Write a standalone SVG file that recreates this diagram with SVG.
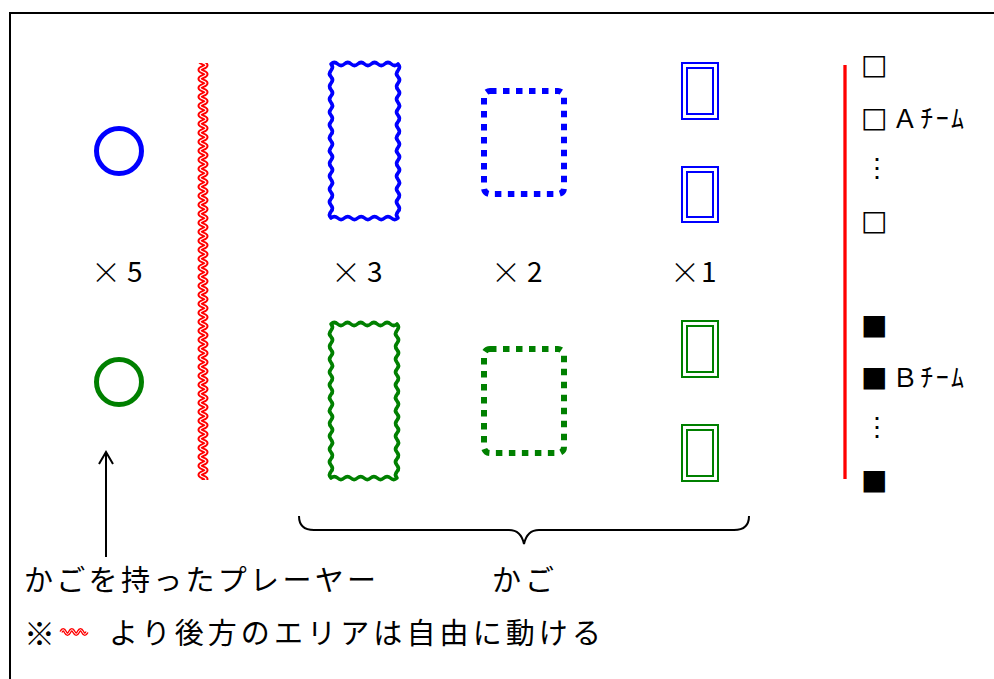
<svg xmlns="http://www.w3.org/2000/svg" width="994" height="679" viewBox="0 0 994 679">
<style>
text{font-family:"Noto Sans CJK JP","Noto Sans",sans-serif;fill:#000}
.t{font-size:29px}
.x{font-size:30px;font-weight:300}
.d{font-size:28px}
.lg{font-size:26px}
.sq{font-family:"DejaVu Sans",sans-serif;font-size:28px}
.bl{stroke:#0000FF;fill:none}
.gr{stroke:#008000;fill:none}
.wv{stroke-width:3.6;stroke-linejoin:round}
.dot{stroke-width:6;stroke-dasharray:6.5 6.5}
.dbl{stroke-width:2}
.circ{stroke-width:5;fill:none}
</style>
<defs>
<pattern id="redwave" patternUnits="userSpaceOnUse" x="193" y="63" width="20" height="9">
<path d="M10,-9 Q16,-6.75 10,-4.5 T10,0 T10,4.5 T10,9 T10,13.5 T10,18" fill="none" stroke="#FF0000" stroke-width="5"/>
<path d="M10,-9 Q16,-6.75 10,-4.5 T10,0 T10,4.5 T10,9 T10,13.5 T10,18" fill="none" stroke="#FFFFFF" stroke-width="1.2"/>
</pattern>
</defs>
<rect x="10" y="13" width="1000" height="700" fill="#FFFFFF" stroke="#000" stroke-width="2"/>

<g id="players">
<circle cx="119" cy="151" r="22.5" class="circ" stroke="#0000FF"/>
<circle cx="119" cy="382" r="22.5" class="circ" stroke="#008000"/>
<text class="x" x="91" y="283">×</text>
<text class="d" x="127" y="282">5</text>
</g>

<g id="boundary">
<rect x="193" y="63" width="20" height="417" fill="url(#redwave)"/>
</g>

<g id="basket3">
<path class="bl wv" d="M331,64 q3.35,-3 6.7,0 t6.7,0 t6.7,0 t6.7,0 t6.7,0 t6.7,0 t6.7,0 t6.7,0 t6.7,0 t6.7,0 q3,3.21 0,6.417 t0,6.417 t0,6.417 t0,6.417 t0,6.417 t0,6.417 t0,6.417 t0,6.417 t0,6.417 t0,6.417 t0,6.417 t0,6.417 t0,6.417 t0,6.417 t0,6.417 t0,6.417 t0,6.417 t0,6.417 t0,6.417 t0,6.417 t0,6.417 t0,6.417 t0,6.417 t0,6.417 q-3.35,3 -6.7,0 t-6.7,0 t-6.7,0 t-6.7,0 t-6.7,0 t-6.7,0 t-6.7,0 t-6.7,0 t-6.7,0 t-6.7,0 q-3,-3.21 0,-6.417 t0,-6.417 t0,-6.417 t0,-6.417 t0,-6.417 t0,-6.417 t0,-6.417 t0,-6.417 t0,-6.417 t0,-6.417 t0,-6.417 t0,-6.417 t0,-6.417 t0,-6.417 t0,-6.417 t0,-6.417 t0,-6.417 t0,-6.417 t0,-6.417 t0,-6.417 t0,-6.417 t0,-6.417 t0,-6.417 t0,-6.417 Z"/>
<path class="gr wv" d="M331,324 q3.3,-3 6.6,0 t6.6,0 t6.6,0 t6.6,0 t6.6,0 t6.6,0 t6.6,0 t6.6,0 t6.6,0 t6.6,0 q3,3.21 0,6.417 t0,6.417 t0,6.417 t0,6.417 t0,6.417 t0,6.417 t0,6.417 t0,6.417 t0,6.417 t0,6.417 t0,6.417 t0,6.417 t0,6.417 t0,6.417 t0,6.417 t0,6.417 t0,6.417 t0,6.417 t0,6.417 t0,6.417 t0,6.417 t0,6.417 t0,6.417 t0,6.417 q-3.3,3 -6.6,0 t-6.6,0 t-6.6,0 t-6.6,0 t-6.6,0 t-6.6,0 t-6.6,0 t-6.6,0 t-6.6,0 t-6.6,0 q-3,-3.21 0,-6.417 t0,-6.417 t0,-6.417 t0,-6.417 t0,-6.417 t0,-6.417 t0,-6.417 t0,-6.417 t0,-6.417 t0,-6.417 t0,-6.417 t0,-6.417 t0,-6.417 t0,-6.417 t0,-6.417 t0,-6.417 t0,-6.417 t0,-6.417 t0,-6.417 t0,-6.417 t0,-6.417 t0,-6.417 t0,-6.417 t0,-6.417 Z"/>
<text class="x" x="331" y="283">×</text>
<text class="d" x="367" y="282">3</text>
</g>

<g id="basket2">
<rect class="bl dot" x="484" y="91" width="80" height="103" rx="6"/>
<rect class="gr dot" x="484" y="349" width="80" height="104" rx="6"/>
<text class="x" x="491" y="283">×</text>
<text class="d" x="527" y="282">2</text>
</g>

<g id="basket1">
<rect class="bl dbl" x="682" y="63" width="36" height="56"/>
<rect class="bl dbl" x="687" y="68" width="26" height="46"/>
<rect class="bl dbl" x="682" y="167" width="36" height="55"/>
<rect class="bl dbl" x="687" y="172" width="26" height="45"/>
<rect class="gr dbl" x="682" y="321" width="36" height="56"/>
<rect class="gr dbl" x="687" y="326" width="26" height="46"/>
<rect class="gr dbl" x="682" y="425" width="36" height="56"/>
<rect class="gr dbl" x="687" y="430" width="26" height="46"/>
<text class="x" x="670" y="283">×</text>
<text class="d" x="701" y="282">1</text>
</g>

<g id="legend">
<line x1="845" y1="65" x2="845" y2="479" stroke="#FF0000" stroke-width="3.3"/>
<text class="sq" x="861" y="74">□</text>
<text class="sq" x="861" y="127">□</text>
<text class="lg" x="892" y="128" textLength="72">Ａﾁｰﾑ</text>
<text class="lg" x="864" y="177">⋮</text>
<text class="sq" x="861" y="230">□</text>
<text class="sq" x="861" y="334">■</text>
<text class="sq" x="861" y="386">■</text>
<text class="lg" x="892" y="387" textLength="72">Ｂﾁｰﾑ</text>
<text class="lg" x="864" y="436">⋮</text>
<text class="sq" x="861" y="489">■</text>
</g>

<g id="connectors">
<line x1="106" y1="557" x2="106" y2="453" stroke="#000" stroke-width="2"/>
<polyline points="99,464 106,452 113,464" fill="none" stroke="#000" stroke-width="2"/>
<path d="M299,516 Q299,530 314,530 L509,530 Q521,530 524,544 Q527,530 539,530 L734,530 Q749,530 749,516" fill="none" stroke="#000" stroke-width="2"/>
</g>

<g id="labels">
<text class="t" x="24" y="591" textLength="352" lengthAdjust="spacing">かごを持ったプレーヤー</text>
<text class="t" x="492" y="591" textLength="62" lengthAdjust="spacing">かご</text>
<text class="t" x="24" y="645" style="font-size:31px">※</text>
<path d="M61,632 q2.17,-4.5 4.33,0 t4.33,0 t4.33,0 t4.33,0 t4.33,0 t4.33,0" fill="none" stroke="#FF0000" stroke-width="3.5"/>
<path d="M61,632 q2.17,-4.5 4.33,0 t4.33,0 t4.33,0 t4.33,0 t4.33,0 t4.33,0" fill="none" stroke="#FFFFFF" stroke-width="1"/>
<text class="t" x="109" y="644" textLength="492" lengthAdjust="spacing">より後方のエリアは自由に動ける</text>
</g>
</svg>
